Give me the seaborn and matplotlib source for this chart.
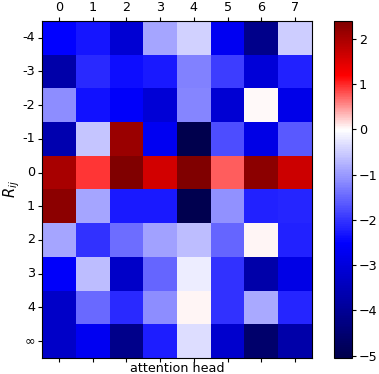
import numpy as np
import matplotlib
matplotlib.use("Agg")
import matplotlib.pyplot as plt
import seaborn as sns
from matplotlib.colors import TwoSlopeNorm, ListedColormap

heads = [0, 1, 2, 3, 4, 5, 6, 7]
rij_labels = ["-4", "-3", "-2", "-1", "0", "1", "2", "3", "4", "∞"]

row_m4 = [-2.50, -2.30, -3.15, -0.88, -0.45, -2.70, -4.15, -0.50]
row_m3 = [-3.73, -2.12, -2.37, -2.27, -1.24, -1.93, -3.03, -2.18]
row_m2 = [-1.14, -2.33, -2.60, -3.10, -1.18, -3.15, 0.02, -2.80]
row_m1 = [-3.66, -0.59, 2.13, -2.70, -5.05, -1.74, -2.85, -1.63]
row_0 = [2.00, 0.94, 2.38, 1.62, 2.40, 0.75, 2.28, 1.68]
row_1 = [2.28, -0.88, -2.27, -2.27, -5.00, -1.10, -2.18, -2.13]
row_2 = [-0.88, -2.03, -1.43, -0.94, -0.64, -1.53, 0.03, -2.18]
row_3 = [-2.60, -0.64, -3.30, -1.53, -0.20, -2.03, -3.73, -2.85]
row_4 = [-3.30, -1.48, -2.12, -1.14, 0.05, -2.03, -0.84, -2.13]
row_inf = [-3.30, -2.70, -4.15, -2.22, -0.35, -3.20, -4.58, -3.73]

data = np.array([row_m4, row_m3, row_m2, row_m1, row_0,
                 row_1, row_2, row_3, row_4, row_inf])

vmin, vmax = data.min(), data.max()
# seismic centred on zero, but keep the colorbar linear in value
norm = TwoSlopeNorm(vcenter=0, vmin=vmin, vmax=vmax)
cols = plt.get_cmap("seismic")(norm(np.linspace(vmin, vmax, 512)))
cmap = ListedColormap(cols)

fs = 9.2
fig = plt.figure(figsize=(3.79, 3.74), dpi=100)
ax = fig.add_axes([0.111, 0.043, 0.712, 0.901])
cax = fig.add_axes([0.881, 0.043, 0.0475, 0.901])

sns.heatmap(data, ax=ax, cbar_ax=cax, cmap=cmap, vmin=vmin, vmax=vmax,
            xticklabels=heads, yticklabels=rij_labels)

for s in ax.spines.values():
    s.set_visible(True)
    s.set_color("black")
    s.set_linewidth(0.8)
cb = ax.collections[0].colorbar
cb.outline.set_visible(True)
cb.outline.set_edgecolor("black")
cb.outline.set_linewidth(0.8)
cb.set_ticks([-5, -4, -3, -2, -1, 0, 1, 2])
cax.tick_params(labelsize=fs, length=3, width=0.8, pad=2)

ax.xaxis.tick_top()
ax.tick_params(axis="x", which="both", top=True, bottom=True,
               labeltop=True, labelbottom=False, labelsize=fs, rotation=0,
               length=3, width=0.8, pad=2)
ax.tick_params(axis="y", labelsize=fs, rotation=0, length=3, width=0.8, pad=2)
ax.set_xlabel("attention head", fontsize=fs, labelpad=0)
ax.xaxis.set_label_position("bottom")
ax.set_ylabel("$R_{ij}$", fontsize=10.5, labelpad=0)

fig.savefig("out.png", dpi=100)
